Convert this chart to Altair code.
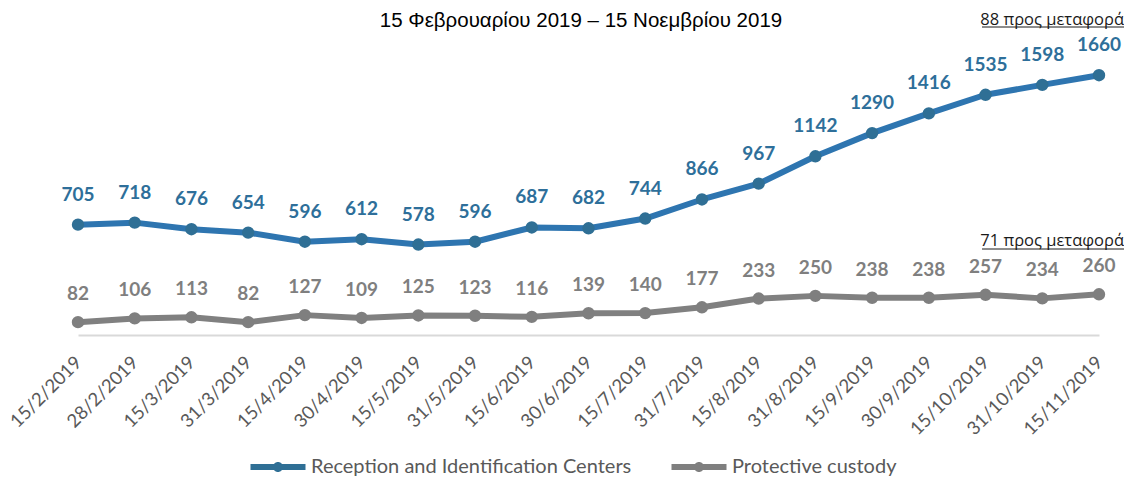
import altair as alt
import pandas as pd

dates = ["15/2/2019", "28/2/2019", "15/3/2019", "31/3/2019", "15/4/2019", "30/4/2019",
         "15/5/2019", "31/5/2019", "15/6/2019", "30/6/2019", "15/7/2019", "31/7/2019",
         "15/8/2019", "31/8/2019", "15/9/2019", "30/9/2019", "15/10/2019", "31/10/2019",
         "15/11/2019"]
ric = [705, 718, 676, 654, 596, 612, 578, 596, 687, 682, 744, 866, 967, 1142, 1290,
       1416, 1535, 1598, 1660]
pc = [82, 106, 113, 82, 127, 109, 125, 123, 116, 139, 140, 177, 233, 250, 238, 238,
      257, 234, 260]
series = ["Reception and Identification Centers", "Protective custody"]
line_colors = ["#2E75B0", "#808080"]
point_colors = ["#2F6F95", "#7F7F7F"]
label_colors = ["#2E6F9A", "#7F7F7F"]
subtitle = "15 Φεβρουαρίου 2019 – 15 Νοεμβρίου 2019"
notes = ["88 προς μεταφορά", "71 προς μεταφορά"]

rows = []
for s, vals, lc, lbc in [(series[0], ric, line_colors[0], label_colors[0]),
                         (series[1], pc, line_colors[1], label_colors[1])]:
    for d, v in zip(dates, vals):
        rows.append({"date": d, "value": v, "series": s, "linecol": lc, "lcolor": lbc})
df = pd.DataFrame(rows)

x = alt.X("date:N", sort=dates, title=None,
          scale=alt.Scale(padding=0),
          axis=alt.Axis(labelAngle=-45, labelAlign="right", labelBaseline="middle",
                        labelPadding=24, ticks=False, tickSize=0, grid=False,
                        domainColor="#D9D9D9", domainWidth=2,
                        labelFont="Lato", labelFontSize=18.5, labelColor="#595959",
                        labelOverlap=False))
y = alt.Y("value:Q", scale=alt.Scale(domain=[0, 2000]), axis=None)

base = alt.Chart(df).encode(x=x, y=y)

# legend glyph: a line segment with a dot, drawn wider than its nominal box
legend_path = ("M -2.75 -0.3 L 2.75 -0.3 L 2.75 0.3 L -2.75 0.3 Z "
               "M 0.5 0 A 0.5 0.5 0 1 1 -0.5 0 A 0.5 0.5 0 1 1 0.5 0 Z")

lines = base.mark_line(strokeWidth=6, strokeCap="round", strokeJoin="round").encode(
    color=alt.Color("linecol:N", scale=None),
    detail="series:N",
)

points = base.mark_circle(size=154, opacity=1).encode(
    color=alt.Color("series:N",
                    scale=alt.Scale(domain=series, range=point_colors),
                    legend=alt.Legend(
                        title=None, orient="none", direction="horizontal",
                        legendX=190, legendY=435,
                        symbolType=legend_path, symbolSize=400, symbolStrokeWidth=0,
                        symbolOpacity=1,
                        labelFont="Lato", labelFontSize=20, labelColor="#595959",
                        labelOffset=23, columnPadding=39, padding=0,
                        labelLimit=500))
)

label_blue = base.transform_filter(alt.datum.series == series[0]).mark_text(
    font="Lato", fontWeight="bold", fontSize=19, baseline="alphabetic", dy=-24
).encode(text="value:Q", color=alt.Color("lcolor:N", scale=None))

label_gray = base.transform_filter(alt.datum.series == series[1]).mark_text(
    font="Lato", fontWeight="bold", fontSize=19, baseline="alphabetic", dy=-22
).encode(text="value:Q", color=alt.Color("lcolor:N", scale=None))

sub = alt.Chart(pd.DataFrame({"t": [subtitle]})).mark_text(
    font="Liberation Sans", fontSize=20.5, color="#000000", align="center", baseline="middle"
).encode(text="t:N", x=alt.value(503), y=alt.value(-1))

note1 = alt.Chart(pd.DataFrame({"t": [notes[0]]})).mark_text(
    font="Open Sans", fontSize=16.5, color="#1a1a1a", align="right", baseline="middle"
).encode(text="t:N", x=alt.value(1046), y=alt.value(-2))
under1 = alt.Chart(pd.DataFrame({"t": [notes[0]]})).mark_rule(
    color="#1a1a1a", strokeWidth=1
).encode(x=alt.value(904), x2=alt.value(1046), y=alt.value(5))

note2 = alt.Chart(pd.DataFrame({"t": [notes[1]]})).mark_text(
    font="Open Sans", fontSize=16.5, color="#1a1a1a", align="right", baseline="middle"
).encode(text="t:N", x=alt.value(1046), y=alt.value(219))
under2 = alt.Chart(pd.DataFrame({"t": [notes[1]]})).mark_rule(
    color="#1a1a1a", strokeWidth=1
).encode(x=alt.value(904), x2=alt.value(1046), y=alt.value(227))

chart = alt.layer(lines, points, label_blue, label_gray, sub, note1, under1, note2, under2).properties(
    width=1021, height=313,
    autosize=alt.AutoSizeParams(type="none"),
    padding={"left": 70, "top": 14, "right": 25, "bottom": 143},
).configure(background="white").configure_view(stroke=None)

chart.save("out.html", embed_options={"renderer": "svg", "actions": False})
